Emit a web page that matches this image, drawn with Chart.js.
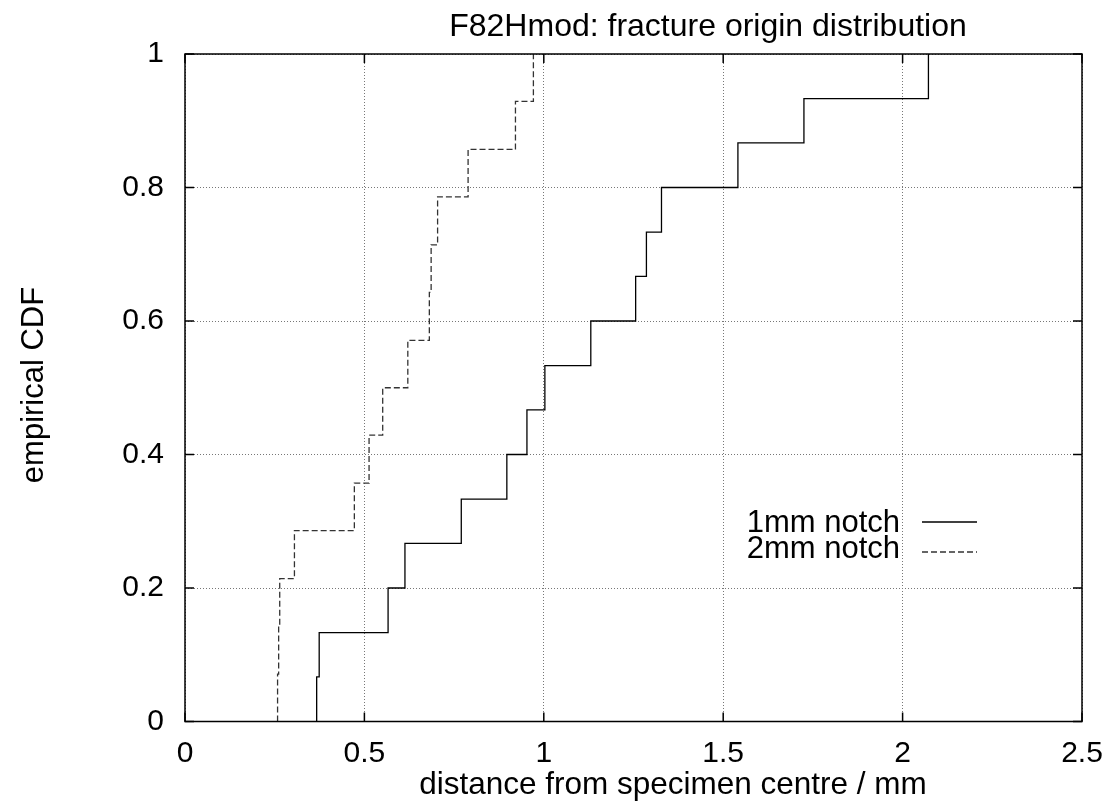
<!DOCTYPE html>
<html>
<head>
<meta charset="utf-8">
<title>F82Hmod: fracture origin distribution</title>
<script src="https://cdn.jsdelivr.net/npm/chart.js@4.4.1/dist/chart.umd.min.js"></script>
<style>
  html, body { margin: 0; padding: 0; background: #fff; }
  #chart { display: block; }
</style>
</head>
<body>
<canvas id="chart" width="1111" height="806"></canvas>
<script>
// Empirical CDF of fracture origin distance
const dist1mm = [0.367, 0.367, 0.374, 0.566, 0.613, 0.770, 0.897, 0.953, 1.003, 1.131, 1.256, 1.286, 1.328, 1.541, 1.725, 2.072];
const cdf1mm  = [0, 0.067, 0.133, 0.2, 0.267, 0.333, 0.4, 0.467, 0.533, 0.6, 0.667, 0.733, 0.8, 0.867, 0.933, 1.0];

const dist2mm = [0.258, 0.258, 0.261, 0.264, 0.305, 0.472, 0.513, 0.551, 0.621, 0.681, 0.686, 0.704, 0.789, 0.921, 0.971];
const cdf2mm  = [0, 0.071, 0.143, 0.214, 0.286, 0.357, 0.429, 0.5, 0.571, 0.643, 0.714, 0.786, 0.857, 0.929, 1.0];

const xTicks = [0, 0.5, 1, 1.5, 2, 2.5];
const yTicks = [0, 0.2, 0.4, 0.6, 0.8, 1];

const seriesLabels = ['1mm notch', '2mm notch'];
const titleText = 'F82Hmod: fracture origin distribution';
const xTitle = 'distance from specimen centre / mm';
const yTitle = 'empirical CDF';

const FONT = "'Liberation Sans', Arial, Helvetica, sans-serif";

function toPoints(xs, ys) {
  return xs.map((v, i) => ({ x: v, y: ys[i] }));
}

// gnuplot-style frame, inward ticks, titles and key
const gnuplotDecor = {
  id: 'gnuplotDecor',
  afterDatasetsDraw(chart) {
    const { ctx, chartArea: a, scales: { x, y } } = chart;
    ctx.save();
    ctx.strokeStyle = '#000';
    ctx.lineWidth = 1.5;
    ctx.setLineDash([]);
    ctx.strokeRect(a.left, a.top, a.right - a.left, a.bottom - a.top);

    const len = 9;
    ctx.beginPath();
    xTicks.forEach(v => {
      const px = x.getPixelForValue(v);
      ctx.moveTo(px, a.bottom); ctx.lineTo(px, a.bottom - len);
      ctx.moveTo(px, a.top); ctx.lineTo(px, a.top + len);
    });
    yTicks.forEach(v => {
      const py = y.getPixelForValue(v);
      ctx.moveTo(a.left, py); ctx.lineTo(a.left + len, py);
      ctx.moveTo(a.right, py); ctx.lineTo(a.right - len, py);
    });
    ctx.stroke();

    // key
    ctx.font = '31px ' + FONT;
    ctx.fillStyle = '#000';
    ctx.textAlign = 'right';
    ctx.textBaseline = 'alphabetic';
    const keyRows = [{ base: 532, line: 522 }, { base: 558, line: 552 }];
    chart.data.datasets.forEach((ds, i) => {
      const r = keyRows[i];
      ctx.fillText(seriesLabels[i], 900, r.base);
      ctx.beginPath();
      ctx.strokeStyle = ds.borderColor;
      ctx.lineWidth = ds.borderWidth;
      ctx.setLineDash(ds.borderDash || []);
      ctx.moveTo(922, r.line);
      ctx.lineTo(977, r.line);
      ctx.stroke();
    });
    ctx.restore();
  },
  afterDraw(chart) {
    const { ctx } = chart;
    ctx.save();
    ctx.fillStyle = '#000';
    ctx.textBaseline = 'alphabetic';
    ctx.textAlign = 'center';
    ctx.font = '32px ' + FONT;
    ctx.fillText(titleText, 708, 36);
    ctx.font = '31.5px ' + FONT;
    ctx.fillText(xTitle, 673, 794);
    ctx.font = '31px ' + FONT;
    ctx.translate(43, 385);
    ctx.rotate(-Math.PI / 2);
    ctx.fillText(yTitle, 0, 0);
    ctx.restore();
  }
};

const gridStyle = {
  color: '#777',
  lineWidth: 1,
  drawTicks: false
};

new Chart(document.getElementById('chart'), {
  type: 'line',
  data: {
    datasets: [
      {
        label: seriesLabels[0],
        data: toPoints(dist1mm, cdf1mm),
        borderColor: '#000',
        borderWidth: 1.3,
        stepped: 'before',
        pointRadius: 0,
        fill: false
      },
      {
        label: seriesLabels[1],
        data: toPoints(dist2mm, cdf2mm),
        borderColor: '#333',
        borderWidth: 1.3,
        borderDash: [6, 3],
        stepped: 'before',
        pointRadius: 0,
        fill: false
      }
    ]
  },
  options: {
    responsive: false,
    animation: false,
    layout: {
      padding: { top: 54, right: 29, left: 0, bottom: 0 }
    },
    plugins: {
      legend: { display: false },
      title: { display: false },
      tooltip: { enabled: false }
    },
    scales: {
      x: {
        type: 'linear',
        min: 0,
        max: 2.5,
        afterBuildTicks: s => { s.ticks = xTicks.map(v => ({ value: v })); },
        afterFit: s => { s.height = 84.5; s.paddingLeft = 0; s.paddingRight = 0; },
        grid: gridStyle,
        border: { display: false, dash: [1, 2] },
        ticks: {
          padding: 14,
          maxRotation: 0,
          color: '#000',
          font: { family: FONT, size: 30 },
          callback: v => String(v)
        }
      },
      y: {
        type: 'linear',
        min: 0,
        max: 1,
        afterBuildTicks: s => { s.ticks = yTicks.map(v => ({ value: v })); },
        afterFit: s => { s.width = 185; s.paddingTop = 0; s.paddingBottom = 0; },
        grid: gridStyle,
        border: { display: false, dash: [1, 2] },
        ticks: {
          padding: 21,
          color: '#000',
          font: { family: FONT, size: 30 },
          callback: v => String(v)
        }
      }
    }
  },
  plugins: [gnuplotDecor]
});
</script>
</body>
</html>
